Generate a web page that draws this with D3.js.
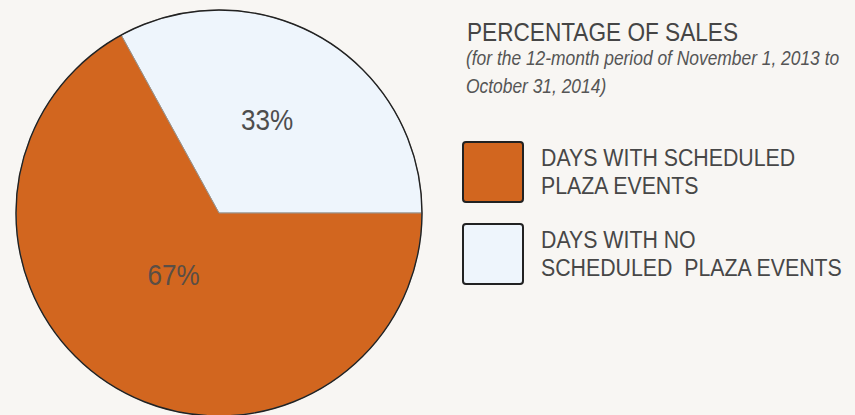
<!DOCTYPE html>
<html>
<head>
<meta charset="utf-8">
<script src="https://cdn.jsdelivr.net/npm/d3@7"></script>
<style>
	body { margin: 0; background: #f8f6f3; }
	svg { display: block; font-family: "Liberation Sans", Arial, sans-serif; }
</style>
</head>
<body>
<div id="chart"></div>
<script>
// Data
const categories = ["DAYS WITH NO SCHEDULED PLAZA EVENTS", "DAYS WITH SCHEDULED PLAZA EVENTS"]
const shares = [33, 67]
const sliceLabels = ["33%", "67%"]
const colors = ["#eef5fc", "#d2661f"]
const legendOrder = [1, 0]
const legendLines = [
	["DAYS WITH SCHEDULED", "PLAZA EVENTS"],
	["DAYS WITH NO", "SCHEDULED  PLAZA EVENTS"],
]
const title = "PERCENTAGE OF SALES"
const subtitleLines = [
	"(for the 12-month period of November 1, 2013 to",
	"October 31, 2014)",
]

const width = 855
const height = 415
const cx = 219
const cy = 213
const radius = 203
const squeeze = 0.87 // fonts in the original are a bit condensed

const svg = d3.select("#chart")
	.append("svg")
	.attr("width", width)
	.attr("height", height)

svg.append("rect")
	.attr("width", width)
	.attr("height", height)
	.attr("fill", "#f8f6f3")

// Pie: the small slice ends at 3 o'clock
const total = d3.sum(shares)
const start = Math.PI / 2 - (2 * Math.PI * shares[0]) / total

const pie = d3.pie()
	.sort(null)
	.startAngle(start)
	.endAngle(start + 2 * Math.PI)

const arcs = pie(shares)
const arc = d3.arc().innerRadius(0).outerRadius(radius)

const g = svg.append("g").attr("transform", `translate(${cx},${cy})`)

g.selectAll("path.slice")
	.data(arcs)
	.join("path")
	.attr("class", "slice")
	.attr("d", arc)
	.attr("fill", (d, i) => colors[i])
	.attr("stroke", "#9a948e")
	.attr("stroke-width", 1)

g.append("circle")
	.attr("r", radius)
	.attr("fill", "none")
	.attr("stroke", "#222")
	.attr("stroke-width", 1.4)

// labels sit at different depths / angles in each slice
const labelDepth = [0.52, 0.375]
const labelTurn = [0.47, 0.525]
g.selectAll("text.pct")
	.data(arcs)
	.join("text")
	.attr("class", "pct")
	.attr("transform", (d, i) => {
		const r = radius * labelDepth[i]
		const a = d.startAngle + labelTurn[i] * (d.endAngle - d.startAngle)
		const x = r * Math.sin(a)
		const y = -r * Math.cos(a)
		return `translate(${x},${y + 11}) scale(${squeeze},1)`
	})
	.attr("text-anchor", "middle")
	.style("font-size", "30px")
	.style("fill", (d, i) => (i === 0 ? "#4d4d4d" : "#5a4e45"))
	.text((d, i) => sliceLabels[i])

// Title block
const tx = 467
const addText = (str, x, y, size, opts = {}) =>
	svg.append("text")
		.attr("transform", `translate(${x},${y}) scale(${squeeze},1)`)
		.style("font-size", size + "px")
		.style("font-style", opts.italic ? "italic" : "normal")
		.style("fill", opts.fill || "#454545")
		.style("white-space", "pre")
		.text(str)

addText(title, tx, 41, 26)
subtitleLines.forEach((s, i) => addText(s, tx - 1, 65 + i * 28, 20, { italic: true, fill: "#555" }))

// Legend
const legend = svg.append("g")
legendOrder.forEach((k, i) => {
	const y0 = 142 + i * 82
	legend.append("rect")
		.attr("x", 463)
		.attr("y", y0)
		.attr("width", 60)
		.attr("height", 60)
		.attr("rx", 3)
		.attr("fill", colors[k])
		.attr("stroke", "#222")
		.attr("stroke-width", 2)
	legendLines[i].forEach((line, j) => {
		addText(line, 541, y0 + 24 + j * 28.3, 24.5, { fill: "#474747" })
	})
})
</script>
</body>
</html>
